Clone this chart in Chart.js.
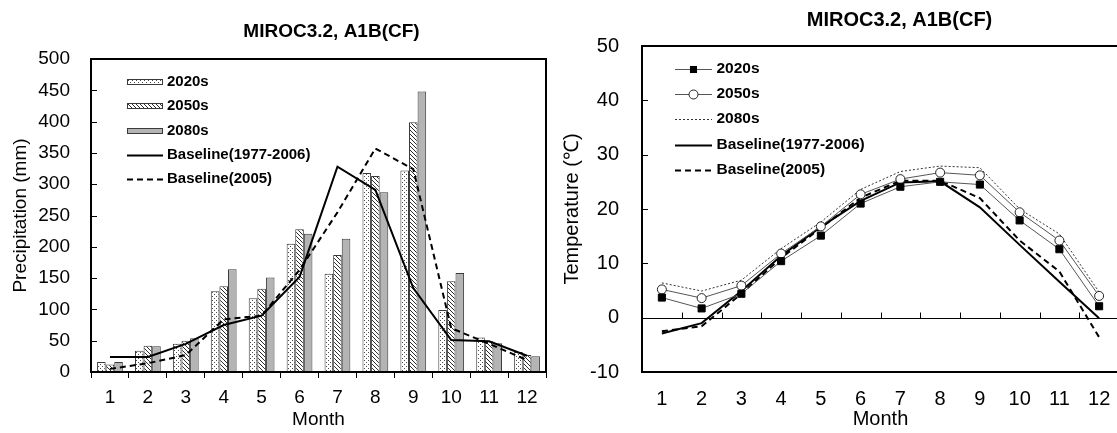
<!DOCTYPE html>
<html>
<head>
<meta charset="utf-8">
<title>MIROC3.2, A1B(CF)</title>
<script src="https://cdn.jsdelivr.net/npm/chart.js@4.4.1/dist/chart.umd.min.js"></script>
<style>
    html, body { margin: 0; padding: 0; background: #fff; }
    body { width: 1117px; height: 433px; overflow: hidden; position: relative; }
    canvas { position: absolute; top: 0; }
    #precipChart { left: 0; }
    #tempChart { left: 560px; }
</style>
</head>
<body>
<canvas id="precipChart" width="560" height="433"></canvas>
<canvas id="tempChart" width="580" height="433"></canvas>
<script>
const FONT = '"Liberation Sans", Arial, sans-serif';

// Months (shared x axis)
const months = ['1', '2', '3', '4', '5', '6', '7', '8', '9', '10', '11', '12'];

// Monthly precipitation (mm)
const precip2020s = [16, 34, 45, 129, 118, 205, 157, 318, 322, 99, 55, 32];
const precip2050s = [12, 42, 50, 137, 133, 228, 187, 313, 399, 145, 49, 27];
const precip2080s = [16, 41, 54, 164, 151, 221, 213, 287, 448, 158, 46, 25];
const precipBaseline = [24, 24, 45, 75, 90, 152, 328, 291, 134, 51, 49, 26];
const precipBaseline2005 = [5, 14, 27, 84, 90, 163, 255, 357, 324, 70, 45, 19];

// Monthly mean temperature (°C)
const temp2020s = [3.7, 1.7, 4.4, 10.4, 15.1, 21.0, 24.1, 25.0, 24.5, 17.9, 12.6, 2.1];
const temp2050s = [5.2, 3.6, 5.9, 11.8, 16.8, 22.7, 25.5, 26.7, 26.2, 19.4, 14.2, 4.0];
const temp2080s = [6.4, 4.9, 6.9, 12.7, 17.6, 23.6, 26.9, 27.9, 27.6, 20.0, 15.4, 4.7];
const tempBaseline = [-2.9, -1.0, 4.9, 11.4, 16.7, 21.5, 24.9, 25.1, 20.3, 13.4, 6.6, -0.1];
const tempBaseline2005 = [-2.5, -1.6, 4.4, 11.0, 16.5, 22.1, 25.2, 25.2, 22.0, 14.2, 8.5, -3.6];

// Value axis ranges
const precipMin = 0, precipMax = 500, precipStep = 50;
const tempMin = -10, tempMax = 50, tempStep = 10;

// Fill patterns for the bars
function makePattern(draw) {
    const c = document.createElement('canvas');
    c.width = 4;
    c.height = 4;
    const g = c.getContext('2d');
    g.fillStyle = '#fff';
    g.fillRect(0, 0, 4, 4);
    draw(g);
    return g.createPattern(c, 'repeat');
}

const dotFill = makePattern(g => {
    g.fillStyle = '#4a4a4a';
    g.fillRect(0, 0, 1, 1);
    g.fillRect(2, 2, 1, 1);
});
const hatchFill = makePattern(g => {
    g.fillStyle = '#2e2e2e';
    for (let i = 0; i < 4; i++) g.fillRect(i, i, 1, 1);
});
const greyFill = '#b4b4b4';

// Plot box, inward ticks on the value axis, optional zero line
const framePlugin = {
    id: 'frame',
    beforeDatasetsDraw(chart, args, opts) {
        if (!opts.zeroLine) return;
        const { ctx, chartArea: a, scales: { x, y } } = chart;
        const py = Math.round(y.getPixelForValue(0)) + 0.5;
        const step = x.getPixelForValue(1) - x.getPixelForValue(0);
        const start = x.getPixelForValue(0) - step / 2;
        ctx.save();
        ctx.strokeStyle = '#000';
        ctx.lineWidth = 1;
        ctx.beginPath();
        ctx.moveTo(a.left, py);
        ctx.lineTo(a.right, py);
        for (let i = 1; i < months.length; i++) {
            const px = Math.round(start + i * step) + 0.5;
            ctx.moveTo(px, py);
            ctx.lineTo(px, py - opts.tickLength);
        }
        ctx.stroke();
        ctx.restore();
    },
    afterDatasetsDraw(chart, args, opts) {
        const { ctx, chartArea: a, scales: { y } } = chart;
        ctx.save();
        ctx.strokeStyle = '#000';
        ctx.lineWidth = 1;
        ctx.beginPath();
        y.ticks.forEach(t => {
            const py = Math.round(y.getPixelForValue(t.value)) + 0.5;
            ctx.moveTo(a.left, py);
            ctx.lineTo(a.left + opts.tickLength, py);
        });
        ctx.stroke();
        ctx.lineWidth = opts.borderWidth;
        ctx.strokeRect(a.left, a.top, a.right - a.left, a.bottom - a.top);
        ctx.restore();
    }
};

// Chart heading above the plot
const headingPlugin = {
    id: 'heading',
    afterDraw(chart, args, opts) {
        const { ctx, chartArea: a } = chart;
        ctx.save();
        ctx.font = `bold ${opts.size}px ${FONT}`;
        ctx.fillStyle = '#000';
        ctx.textAlign = 'center';
        ctx.textBaseline = 'middle';
        ctx.fillText(opts.text, (a.left + a.right) / 2 + opts.dx, opts.y);
        ctx.restore();
    }
};

// Key inside the plot, built from the dataset styles
const keyPlugin = {
    id: 'key',
    afterDraw(chart, args, opts) {
        const { ctx, chartArea: a } = chart;
        ctx.save();
        ctx.font = `bold ${opts.size}px ${FONT}`;
        ctx.textBaseline = 'middle';
        chart.data.datasets.forEach((ds, i) => {
            const x0 = a.left + opts.left;
            const x1 = x0 + opts.swatch;
            const yy = Math.round(a.top + opts.top + i * opts.gap);
            if (ds.type === 'bar') {
                ctx.fillStyle = ds.backgroundColor;
                ctx.fillRect(x0, yy - 3, opts.swatch, 6);
                ctx.strokeStyle = ds.borderColor;
                ctx.lineWidth = 1;
                ctx.strokeRect(x0 + 0.5, yy - 2.5, opts.swatch - 1, 5);
            } else {
                ctx.strokeStyle = ds.borderColor;
                ctx.lineWidth = ds.borderWidth;
                ctx.setLineDash(ds.borderDash || []);
                ctx.beginPath();
                ctx.moveTo(x0, yy + 0.5);
                ctx.lineTo(x1, yy + 0.5);
                ctx.stroke();
                ctx.setLineDash([]);
                const cx = (x0 + x1) / 2;
                if (ds.pointRadius && ds.pointStyle === 'rect') {
                    const s = Math.SQRT1_2 * ds.pointRadius;
                    ctx.fillStyle = ds.pointBackgroundColor;
                    ctx.fillRect(cx - s, yy + 0.5 - s, 2 * s, 2 * s);
                } else if (ds.pointRadius) {
                    ctx.beginPath();
                    ctx.arc(cx, yy + 0.5, ds.pointRadius, 0, Math.PI * 2);
                    ctx.fillStyle = ds.pointBackgroundColor;
                    ctx.fill();
                    ctx.lineWidth = ds.pointBorderWidth;
                    ctx.strokeStyle = ds.pointBorderColor;
                    ctx.stroke();
                }
            }
            ctx.fillStyle = '#000';
            ctx.fillText(ds.label, x1 + opts.textGap, yy);
        });
        ctx.restore();
    }
};

function barSet(label, data, fill) {
    return {
        type: 'bar', label, data,
        backgroundColor: fill,
        borderColor: '#3a3a3a',
        borderWidth: 1,
        categoryPercentage: 0.68,
        barPercentage: 1.0,
        order: 1
    };
}

function lineSet(label, data, style) {
    return Object.assign({
        type: 'line', label, data,
        borderColor: '#000',
        borderWidth: 2,
        tension: 0,
        pointRadius: 0,
        fill: false,
        order: 0
    }, style);
}

function axisFont(size) {
    return { family: FONT, size: size };
}

// Precipitation
new Chart(document.getElementById('precipChart'), {
    data: {
        labels: months,
        datasets: [
            barSet('2020s', precip2020s, dotFill),
            barSet('2050s', precip2050s, hatchFill),
            barSet('2080s', precip2080s, greyFill),
            lineSet('Baseline(1977-2006)', precipBaseline, {}),
            lineSet('Baseline(2005)', precipBaseline2005, { borderDash: [6, 4] })
        ]
    },
    options: {
        responsive: false,
        animation: false,
        devicePixelRatio: 1,
        layout: { padding: { top: 59, right: 14, left: 0, bottom: 0 } },
        plugins: {
            legend: { display: false },
            tooltip: { enabled: false },
            frame: { tickLength: 6, borderWidth: 2 },
            heading: { text: 'MIROC3.2, A1B(CF)', size: 19, y: 32, dx: 13 },
            key: { left: 36, top: 23, gap: 24.3, swatch: 36, textGap: 4, size: 15 }
        },
        scales: {
            x: {
                grid: { display: true, drawOnChartArea: false, drawTicks: true, tickLength: 6, offset: true, color: '#000', lineWidth: 1 },
                border: { display: false },
                ticks: { color: '#000', font: axisFont(19), padding: 8.5, maxRotation: 0, autoSkip: false },
                title: { display: true, text: 'Month', color: '#000', font: axisFont(19), padding: { top: 0, bottom: 1.5 } },
                afterFit(s) { s.height = 61; }
            },
            y: {
                min: precipMin,
                max: precipMax,
                grid: { display: false, drawTicks: false },
                border: { display: false },
                ticks: { stepSize: precipStep, color: '#000', font: axisFont(19), padding: 21 },
                title: { display: true, text: 'Precipitation (mm)', color: '#000', font: axisFont(19), padding: { top: 9, bottom: 0 } },
                afterFit(s) { s.width = 91; }
            }
        }
    },
    plugins: [framePlugin, headingPlugin, keyPlugin]
});

// Temperature
new Chart(document.getElementById('tempChart'), {
    data: {
        labels: months,
        datasets: [
            lineSet('2020s', temp2020s, {
                borderColor: '#555', borderWidth: 1,
                pointStyle: 'rect', pointRadius: 5,
                pointBackgroundColor: '#000', pointBorderColor: '#000', pointBorderWidth: 1
            }),
            lineSet('2050s', temp2050s, {
                borderColor: '#555', borderWidth: 1,
                pointStyle: 'circle', pointRadius: 4.5,
                pointBackgroundColor: '#fff', pointBorderColor: '#222', pointBorderWidth: 1
            }),
            lineSet('2080s', temp2080s, { borderColor: '#333', borderWidth: 1, borderDash: [2, 2] }),
            lineSet('Baseline(1977-2006)', tempBaseline, {}),
            lineSet('Baseline(2005)', tempBaseline2005, { borderDash: [6, 4] })
        ]
    },
    options: {
        responsive: false,
        animation: false,
        devicePixelRatio: 1,
        layout: { padding: { top: 46, right: 21, left: 0, bottom: 0 } },
        plugins: {
            legend: { display: false },
            tooltip: { enabled: false },
            frame: { tickLength: 6, borderWidth: 2, zeroLine: true },
            heading: { text: 'MIROC3.2, A1B(CF)', size: 20, y: 20, dx: 19 },
            key: { left: 33, top: 23, gap: 25.2, swatch: 37, textGap: 4.5, size: 15.5 }
        },
        scales: {
            x: {
                offset: true,
                grid: { display: false, drawTicks: false, offset: true },
                border: { display: false },
                ticks: { color: '#000', font: axisFont(20), padding: 15, maxRotation: 0, autoSkip: false },
                title: { display: true, text: 'Month', color: '#000', font: axisFont(20), padding: { top: 0, bottom: 2 } },
                afterFit(s) { s.height = 61; }
            },
            y: {
                min: tempMin,
                max: tempMax,
                grid: { display: false, drawTicks: false },
                border: { display: false },
                ticks: { stepSize: tempStep, color: '#000', font: axisFont(20), padding: 23 },
                title: { display: true, text: 'Temperature (℃)', color: '#000', font: axisFont(20), padding: { top: 0, bottom: 0 } },
                afterFit(s) { s.width = 82; }
            }
        }
    },
    plugins: [framePlugin, headingPlugin, keyPlugin]
});
</script>
</body>
</html>
